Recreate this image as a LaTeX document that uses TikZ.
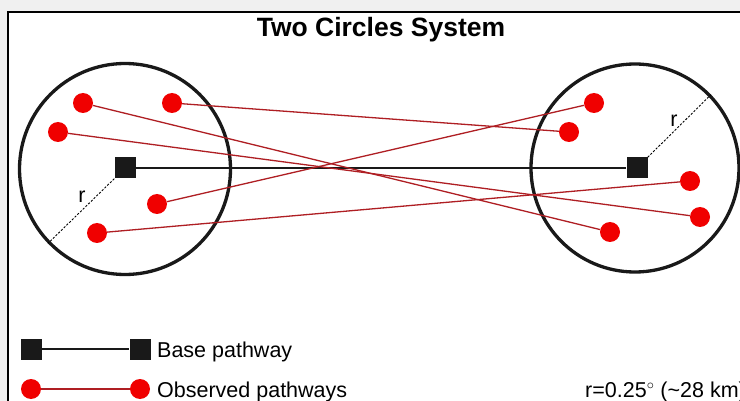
\documentclass[tikz,border=0pt]{standalone}
\usepackage{fontspec}
\setmainfont{Liberation Sans}
\usepackage{xcolor}
\usepackage{tikz}
\usetikzlibrary{positioning, calc}
\definecolor{panelgray}{RGB}{240,240,240}
\definecolor{obsred}{RGB}{240,0,0}
\definecolor{obsline}{RGB}{175,30,35}
\definecolor{baseblack}{RGB}{25,25,25}

\begin{document}
\begin{tikzpicture}[x=1pt, y=-1pt,
    station/.style={fill=baseblack, minimum size=21pt, inner sep=0pt},
    obsdot/.style={circle, fill=obsred, minimum size=20pt, inner sep=0pt},
    zone/.style={draw=baseblack, circle, line width=3.3pt, minimum size=211pt, inner sep=0pt},
    pathway/.style={obsline, line width=1.3pt},
    basepath/.style={baseblack, line width=1.4pt},
    rline/.style={black, line width=0.9pt, dash pattern=on 2.2pt off 1.6pt},
    lbl/.style={inner sep=0pt, font=\fontsize{21.5}{24}\selectfont}]
    \useasboundingbox (0,0) rectangle (740,401);
    \clip (0,0) rectangle (740,401);

    % Panel
    \fill[panelgray] (0,0) rectangle (740,401);
    \draw[fill=white, line width=2pt] (8,12) rectangle (760,420);
    \node[inner sep=0pt, anchor=base, font=\fontsize{26.5}{30}\selectfont\bfseries] (title) at (381,37) {Two Circles System};

    % Circles
    \node[zone] (leftzone) at (125,169) {};
    \node[zone, minimum size=208pt] (rightzone) at (635,168) {};

    % Base pathway
    \node[station] (lbase) at (125,168) {};
    \node[station] (rbase) at (637,168) {};
    \draw[basepath] (lbase) -- (rbase);

    % Radius
    \draw[rline] (lbase.south west) -- (leftzone.224);
    \draw[rline] (rbase.north east) -- (rightzone.44);
    \node[lbl] (lr) at (82,197) {r};
    \node[lbl] (rr) at (674,121) {r};

    % Observed pathways
    \node[obsdot] (la) at (83,103) {};
    \node[obsdot] (lb) at (172,103) {};
    \node[obsdot] (lc) at (58,132) {};
    \node[obsdot] (ld) at (157,204) {};
    \node[obsdot] (le) at (97,233) {};
    \node[obsdot] (ra) at (594,103) {};
    \node[obsdot] (rb) at (569,132) {};
    \node[obsdot] (rc) at (690,181) {};
    \node[obsdot] (rd) at (700,217) {};
    \node[obsdot] (re) at (610,232) {};
    \draw[pathway] (lb) -- (rb);
    \draw[pathway] (la) -- (re);
    \draw[pathway] (lc) -- (rd);
    \draw[pathway] (ld) -- (ra);
    \draw[pathway] (le) -- (rc);

    % Legend
    \node[station] (keybasea) at (31,349) {};
    \node[station] (keybaseb) at (140,349) {};
    \draw[basepath] (keybasea) -- (keybaseb);
    \node[lbl, anchor=base west] (keybase) at (157,357) {Base pathway};
    \node[obsdot] (keyobsa) at (31,389) {};
    \node[obsdot] (keyobsb) at (140,389) {};
    \draw[pathway] (keyobsa) -- (keyobsb);
    \node[lbl, anchor=base west] (keyobs) at (157,397) {Observed pathways};
    \node[lbl, anchor=base west] (scale) at (585,397) {r=0.25$^{\circ}$ (\textasciitilde 28 km)};
\end{tikzpicture}
\end{document}
